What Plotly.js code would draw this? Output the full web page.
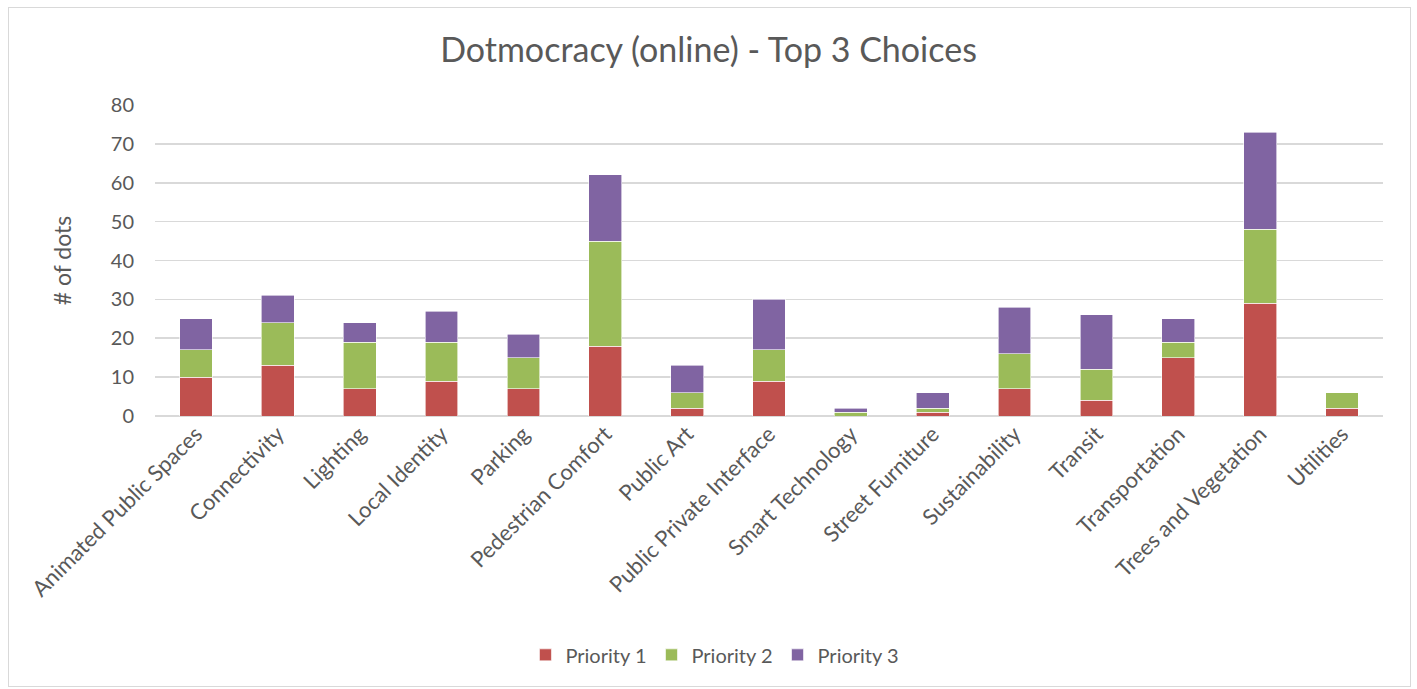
<!DOCTYPE html>
<html>
<head>
<meta charset="utf-8">
<script src="https://cdn.plot.ly/plotly-3.0.1.min.js"></script>
<style>
html,body{margin:0;padding:0;background:#fff;}
#chart{width:1417px;height:689px;}
#frame{position:absolute;left:8px;top:7px;width:1401px;height:678px;border:1px solid #d9d9d9;pointer-events:none;}
</style>
</head>
<body>
<div id="chart"></div>
<div id="frame"></div>
<script>
const categories = ["Animated Public Spaces","Connectivity","Lighting","Local Identity","Parking","Pedestrian Comfort","Public Art","Public Private Interface","Smart Technology","Street Furniture","Sustainability","Transit","Transportation","Trees and Vegetation","Utilities"];
const priority1 = [10,13,7,9,7,18,2,9,0,1,7,4,15,29,2];
const priority2 = [7,11,12,10,8,27,4,8,1,1,9,8,4,19,4];
const priority3 = [8,7,5,8,6,17,7,13,1,4,12,14,6,25,0];
const seriesNames = ["Priority 1","Priority 2","Priority 3"];
const colors = ["#c0504d","#9bbb59","#8064a2"];
const tickVals = [0,10,20,30,40,50,60,70,80];

const font = "Lato, 'Open Sans', sans-serif";
const data = [priority1, priority2, priority3].map((vals, i) => ({
  type: "bar",
  x: categories,
  y: vals,
  name: seriesNames[i],
  marker: {color: colors[i], line: {color: "#ffffff", width: 0.6}},
  hoverinfo: "x+y+name"
}));

const layout = {
  width: 1417, height: 689,
  barmode: "stack",
  bargap: 0.6,
  paper_bgcolor: "#ffffff",
  plot_bgcolor: "#ffffff",
  margin: {l: 155, r: 34, t: 105, b: 273},
  title: {text: "Dotmocracy (online) - Top 3 Choices", x: 0.5, xanchor: "center", y: 0.927, yanchor: "middle",
          font: {family: font, size: 34, color: "#595959"}},
  font: {family: font, color: "#595959"},
  xaxis: {
    type: "category",
    tickangle: -45,
    tickfont: {family: font, size: 22, color: "#595959"},
    showgrid: false,
    showline: false,
    ticks: "",
    automargin: false
  },
  yaxis: {
    range: [0, 80],
    tickvals: tickVals,
    ticktext: tickVals.map(String),
    tickfont: {family: font, size: 20, color: "#595959"},
    ticklabelstandoff: 20,
    gridcolor: "#d9d9d9",
    gridwidth: 1.6,
    zeroline: true,
    zerolinecolor: "#d9d9d9",
    zerolinewidth: 1.6,
    showline: false,
    ticks: "",
    ticklen: 0,
    title: {text: "# of dots", font: {family: font, size: 23, color: "#595959"}, standoff: 32},
    automargin: false
  },
  legend: {
    orientation: "h",
    x: 0.456, xanchor: "center",
    y: -0.768, yanchor: "middle",
    font: {family: font, size: 20, color: "#595959"},
    traceorder: "normal"
  },
  showlegend: true
};

Plotly.newPlot("chart", data, layout, {displayModeBar: false, staticPlot: true});
</script>
</body>
</html>
